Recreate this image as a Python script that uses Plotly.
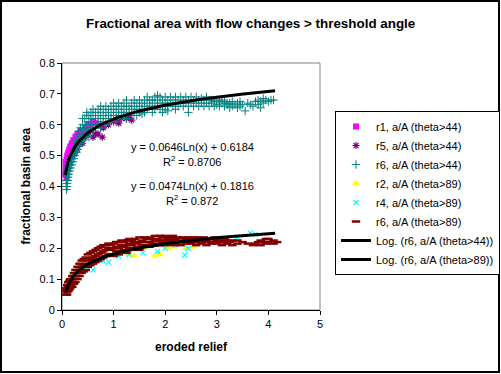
import math
import plotly.graph_objects as go

# ---------------- data ----------------
# r6, a/A (theta>44)  -- teal crosses
r6_44_x = [0.08, 0.08, 0.09, 0.09, 0.09, 0.10, 0.10, 0.10, 0.10, 0.11, 0.11, 0.12, 0.12, 0.12,
           0.13, 0.13, 0.13, 0.15, 0.15, 0.15, 0.17, 0.17, 0.17, 0.19, 0.19, 0.21, 0.21, 0.21,
           0.23, 0.23, 0.25, 0.25, 0.25, 0.28, 0.28, 0.28, 0.30, 0.30, 0.30, 0.33, 0.33, 0.33,
           0.36, 0.36, 0.36, 0.40, 0.40, 0.40, 0.40, 0.44, 0.44, 0.44, 0.48, 0.48, 0.48, 0.48,
           0.52, 0.52, 0.52, 0.52, 0.56, 0.56, 0.56, 0.60, 0.60, 0.60, 0.60, 0.65, 0.65, 0.65,
           0.70, 0.70, 0.70, 0.70, 0.75, 0.75, 0.75, 0.75, 0.80, 0.80, 0.80, 0.85, 0.85, 0.85,
           0.85, 0.90, 0.90, 0.90, 0.95, 0.95, 0.95, 1.00, 1.00, 1.00, 1.00, 1.05, 1.05, 1.05,
           1.10, 1.10, 1.10, 1.15, 1.15, 1.15, 1.20, 1.20, 1.20, 1.25, 1.25, 1.25, 1.25, 1.30,
           1.30, 1.35, 1.35, 1.35, 1.40, 1.40, 1.40, 1.45, 1.45, 1.45, 1.50, 1.50, 1.50, 1.55,
           1.55, 1.60, 1.60, 1.60, 1.65, 1.65, 1.65, 1.70, 1.70, 1.75, 1.75, 1.75, 1.80, 1.80,
           1.80, 1.85, 1.85, 1.85, 1.90, 1.90, 1.90, 1.95, 1.95, 2.00, 2.00, 2.00, 2.05, 2.05,
           2.10, 2.10, 2.15, 2.15, 2.20, 2.20, 2.25, 2.25, 2.30, 2.30, 2.35, 2.35, 2.40, 2.40,
           2.45, 2.45, 2.50, 2.50, 2.55, 2.55, 2.60, 2.60, 2.65, 2.65, 2.70, 2.70, 2.75, 2.75,
           2.80, 2.80, 2.85, 2.85, 2.90, 2.90, 2.95, 2.95, 3.00, 3.00, 3.05, 3.05, 3.10, 3.10,
           3.15, 3.15, 3.20, 3.20, 3.25, 3.25, 3.30, 3.30, 3.35, 3.40, 3.40, 3.45, 3.45, 3.50,
           3.55, 3.60, 3.65, 3.70, 3.75, 3.80, 3.80, 3.85, 3.85, 3.90, 3.90, 3.95, 4.00, 4.05,
           4.10, 1.55, 1.95, 2.05, 2.20, 2.45]
r6_44_y = [0.40, 0.42, 0.39, 0.42, 0.44, 0.40, 0.41, 0.43, 0.45, 0.42, 0.44, 0.43, 0.45, 0.47,
           0.44, 0.46, 0.48, 0.45, 0.47, 0.49, 0.46, 0.48, 0.50, 0.47, 0.50, 0.48, 0.50, 0.52,
           0.49, 0.52, 0.50, 0.52, 0.54, 0.51, 0.53, 0.55, 0.52, 0.54, 0.57, 0.53, 0.55, 0.58,
           0.54, 0.56, 0.59, 0.55, 0.57, 0.60, 0.62, 0.56, 0.59, 0.62, 0.57, 0.60, 0.63, 0.64,
           0.56, 0.58, 0.61, 0.63, 0.59, 0.62, 0.64, 0.58, 0.60, 0.63, 0.65, 0.59, 0.62, 0.64,
           0.60, 0.61, 0.63, 0.65, 0.59, 0.62, 0.64, 0.66, 0.61, 0.63, 0.65, 0.60, 0.62, 0.64,
           0.66, 0.61, 0.63, 0.65, 0.62, 0.64, 0.66, 0.61, 0.63, 0.65, 0.67, 0.62, 0.64, 0.66,
           0.63, 0.65, 0.67, 0.62, 0.64, 0.66, 0.63, 0.65, 0.67, 0.62, 0.64, 0.66, 0.68, 0.64,
           0.66, 0.63, 0.65, 0.67, 0.64, 0.66, 0.68, 0.63, 0.65, 0.67, 0.64, 0.66, 0.68, 0.65,
           0.67, 0.64, 0.66, 0.68, 0.65, 0.67, 0.69, 0.66, 0.68, 0.64, 0.66, 0.68, 0.65, 0.67,
           0.69, 0.66, 0.68, 0.695, 0.65, 0.67, 0.69, 0.66, 0.68, 0.65, 0.67, 0.69, 0.66, 0.68,
           0.67, 0.69, 0.66, 0.68, 0.67, 0.69, 0.66, 0.68, 0.67, 0.69, 0.66, 0.68, 0.67, 0.69,
           0.66, 0.68, 0.67, 0.69, 0.66, 0.68, 0.67, 0.69, 0.66, 0.68, 0.67, 0.685, 0.66, 0.68,
           0.67, 0.69, 0.66, 0.68, 0.67, 0.68, 0.66, 0.675, 0.665, 0.68, 0.66, 0.675, 0.67, 0.68,
           0.66, 0.675, 0.665, 0.67, 0.655, 0.67, 0.66, 0.675, 0.665, 0.655, 0.67, 0.66, 0.675, 0.665,
           0.645, 0.67, 0.665, 0.66, 0.675, 0.665, 0.68, 0.655, 0.675, 0.67, 0.685, 0.68, 0.675, 0.68,
           0.68, 0.635, 0.64, 0.645, 0.65, 0.64]

# r1, a/A (theta>44)  -- magenta squares
r1_44_x = [0.06, 0.07, 0.07, 0.08, 0.08, 0.09, 0.09, 0.10, 0.10, 0.11, 0.12, 0.12, 0.13, 0.14,
           0.15, 0.16, 0.18, 0.19, 0.21, 0.22, 0.24, 0.26, 0.28, 0.30, 0.33, 0.36, 0.40, 0.45,
           0.50, 0.55, 0.60, 0.64]
r1_44_y = [0.44, 0.46, 0.48, 0.45, 0.47, 0.49, 0.43, 0.50, 0.46, 0.48, 0.50, 0.51, 0.49, 0.52,
           0.51, 0.53, 0.52, 0.54, 0.53, 0.55, 0.54, 0.56, 0.55, 0.57, 0.56, 0.58, 0.57, 0.59,
           0.60, 0.60, 0.61, 0.605]

# r5, a/A (theta>44)  -- purple asterisks
r5_44_x = [0.12, 0.15, 0.20, 0.25, 0.30, 0.35, 0.40, 0.45, 0.50, 0.55, 0.60, 0.65, 0.70, 0.75,
           0.78, 0.80, 0.90, 1.00, 1.05, 1.10, 1.15, 1.25, 1.30, 1.35]
r5_44_y = [0.46, 0.48, 0.50, 0.51, 0.52, 0.54, 0.54, 0.56, 0.57, 0.58, 0.56, 0.57, 0.57, 0.60,
           0.56, 0.59, 0.60, 0.61, 0.615, 0.605, 0.62, 0.62, 0.625, 0.615]

# r2, a/A (theta>89)  -- yellow triangles
r2_89_x = [0.10, 0.15, 0.20, 0.25, 0.30, 0.35, 0.40, 0.45, 0.50, 0.55, 0.70, 0.90, 1.00, 1.10,
           1.30, 1.40, 1.60, 1.80, 1.90, 2.05, 2.15, 2.40, 2.55]
r2_89_y = [0.08, 0.10, 0.11, 0.12, 0.13, 0.14, 0.16, 0.17, 0.165, 0.175, 0.17, 0.18, 0.185, 0.19,
           0.18, 0.175, 0.20, 0.175, 0.18, 0.20, 0.205, 0.20, 0.205]

# r4, a/A (theta>89)  -- cyan crosses
r4_89_x = [0.08, 0.10, 0.15, 0.30, 0.40, 0.50, 0.60, 0.73, 0.80, 0.90, 1.10, 1.30, 1.57, 1.85,
           2.00, 2.20, 2.38, 2.45, 2.90, 3.10, 3.40, 3.65, 3.75]
r4_89_y = [0.08, 0.07, 0.09, 0.11, 0.13, 0.13, 0.13, 0.16, 0.16, 0.155, 0.175, 0.18, 0.185, 0.19,
           0.20, 0.21, 0.178, 0.20, 0.22, 0.22, 0.236, 0.249, 0.245]

# r6, a/A (theta>89)  -- maroon dashes
r6_89_x = [0.08, 0.08, 0.08, 0.10, 0.10, 0.10, 0.12, 0.12, 0.12, 0.14, 0.14, 0.14, 0.16, 0.16,
           0.16, 0.18, 0.18, 0.20, 0.20, 0.20, 0.23, 0.23, 0.23, 0.26, 0.26, 0.26, 0.30, 0.30,
           0.30, 0.34, 0.34, 0.34, 0.38, 0.38, 0.38, 0.42, 0.42, 0.42, 0.46, 0.46, 0.46, 0.50,
           0.50, 0.50, 0.55, 0.55, 0.55, 0.60, 0.60, 0.60, 0.65, 0.65, 0.65, 0.70, 0.70, 0.70,
           0.75, 0.75, 0.75, 0.80, 0.80, 0.80, 0.85, 0.85, 0.85, 0.90, 0.90, 0.90, 0.95, 0.95,
           0.95, 1.00, 1.00, 1.00, 1.05, 1.05, 1.05, 1.10, 1.10, 1.10, 1.15, 1.15, 1.15, 1.20,
           1.20, 1.20, 1.25, 1.25, 1.25, 1.30, 1.30, 1.30, 1.35, 1.35, 1.35, 1.40, 1.40, 1.40,
           1.45, 1.45, 1.50, 1.50, 1.50, 1.55, 1.55, 1.60, 1.60, 1.60, 1.65, 1.65, 1.70, 1.70,
           1.70, 1.75, 1.75, 1.80, 1.80, 1.80, 1.85, 1.85, 1.90, 1.90, 1.90, 1.95, 1.95, 2.00,
           2.00, 2.00, 2.05, 2.05, 2.10, 2.10, 2.15, 2.15, 2.15, 2.20, 2.20, 2.25, 2.25, 2.30,
           2.30, 2.35, 2.35, 2.40, 2.40, 2.45, 2.45, 2.50, 2.50, 2.55, 2.55, 2.60, 2.60, 2.65,
           2.65, 2.70, 2.70, 2.75, 2.75, 2.80, 2.80, 2.85, 2.85, 2.90, 2.90, 2.95, 2.95, 3.00,
           3.00, 3.05, 3.05, 3.10, 3.10, 3.15, 3.15, 3.20, 3.20, 3.25, 3.30, 3.30, 3.40, 3.40,
           3.50, 3.60, 3.70, 3.75, 3.80, 3.85, 3.85, 3.90, 3.95, 3.95, 4.00, 4.00, 4.10, 4.10,
           4.17]
r6_89_y = [0.05, 0.06, 0.07, 0.05, 0.065, 0.08, 0.06, 0.075, 0.09, 0.065, 0.08, 0.095, 0.07, 0.09,
           0.10, 0.08, 0.10, 0.075, 0.09, 0.11, 0.085, 0.10, 0.12, 0.09, 0.11, 0.13, 0.10, 0.12,
           0.14, 0.11, 0.13, 0.15, 0.12, 0.14, 0.16, 0.125, 0.145, 0.165, 0.13, 0.15, 0.17, 0.14,
           0.16, 0.18, 0.145, 0.165, 0.185, 0.15, 0.17, 0.19, 0.155, 0.175, 0.195, 0.16, 0.18, 0.20,
           0.165, 0.185, 0.205, 0.17, 0.19, 0.21, 0.175, 0.195, 0.21, 0.18, 0.20, 0.215, 0.18, 0.195,
           0.21, 0.175, 0.20, 0.215, 0.19, 0.205, 0.22, 0.18, 0.20, 0.22, 0.19, 0.21, 0.225, 0.195,
           0.205, 0.22, 0.185, 0.21, 0.225, 0.20, 0.215, 0.23, 0.195, 0.21, 0.225, 0.20, 0.22, 0.23,
           0.205, 0.215, 0.195, 0.22, 0.235, 0.21, 0.225, 0.205, 0.22, 0.235, 0.21, 0.23, 0.205, 0.22,
           0.235, 0.215, 0.23, 0.21, 0.225, 0.24, 0.215, 0.23, 0.21, 0.225, 0.24, 0.22, 0.235, 0.21,
           0.225, 0.24, 0.215, 0.23, 0.22, 0.235, 0.21, 0.225, 0.24, 0.215, 0.23, 0.22, 0.235, 0.21,
           0.225, 0.22, 0.235, 0.215, 0.23, 0.22, 0.235, 0.215, 0.23, 0.22, 0.235, 0.21, 0.225, 0.22,
           0.235, 0.215, 0.23, 0.22, 0.235, 0.21, 0.225, 0.22, 0.23, 0.215, 0.23, 0.22, 0.235, 0.215,
           0.225, 0.22, 0.23, 0.21, 0.225, 0.22, 0.23, 0.215, 0.225, 0.22, 0.21, 0.225, 0.215, 0.225,
           0.22, 0.215, 0.21, 0.215, 0.22, 0.225, 0.21, 0.22, 0.23, 0.215, 0.22, 0.23, 0.225, 0.215,
           0.22]

# logarithmic trendlines (coefficients as printed on the chart)
trend_44 = {"a": 0.0646, "b": 0.6184, "xmin": 0.06, "xmax": 4.13}
trend_89 = {"a": 0.0474, "b": 0.1816, "xmin": 0.07, "xmax": 4.13}
eq_44 = ["y = 0.0646Ln(x) + 0.6184", "R<sup>2</sup> = 0.8706"]
eq_89 = ["y = 0.0474Ln(x) + 0.1816", "R<sup>2</sup> = 0.872"]

x_ticks = [0, 1, 2, 3, 4, 5]
y_ticks = [0, 0.1, 0.2, 0.3, 0.4, 0.5, 0.6, 0.7, 0.8]
y_tick_labels = ["0", "0.1", "0.2", "0.3", "0.4", "0.5", "0.6", "0.7", "0.8"]

# ---------------- figure ----------------
FONT = "Liberation Sans, Arial, sans-serif"


def trend_xy(t, n=80):
    xs = [t["xmin"] + (t["xmax"] - t["xmin"]) * i / (n - 1) for i in range(n)]
    ys = [t["a"] * math.log(v) + t["b"] for v in xs]
    return xs, ys


fig = go.Figure()

fig.add_trace(go.Scatter(x=r1_44_x, y=r1_44_y, mode="markers", name="r1, a/A (theta>44)",
                         marker=dict(symbol="square", size=6, color="#FF00FF")))
fig.add_trace(go.Scatter(x=r5_44_x, y=r5_44_y, mode="markers", name="r5, a/A (theta>44)",
                         marker=dict(symbol="asterisk", size=6, color="#800080",
                                     line=dict(color="#800080", width=1.2))))
fig.add_trace(go.Scatter(x=r6_44_x, y=r6_44_y, mode="markers", name="r6, a/A (theta>44)",
                         marker=dict(symbol="cross-thin", size=6, color="#008080",
                                     line=dict(color="#008080", width=1))))
fig.add_trace(go.Scatter(x=r2_89_x, y=r2_89_y, mode="markers", name="r2, a/A (theta>89)",
                         marker=dict(symbol="triangle-up", size=7, color="#FFFF00")))
fig.add_trace(go.Scatter(x=r4_89_x, y=r4_89_y, mode="markers", name="r4, a/A (theta>89)",
                         marker=dict(symbol="x-thin", size=5, color="#00FFFF",
                                     line=dict(color="#00FFFF", width=1.2))))
fig.add_trace(go.Scatter(x=r6_89_x, y=r6_89_y, mode="markers", name="r6, a/A (theta>89)",
                         marker=dict(symbol="line-ew", size=6, color="#800000",
                                     line=dict(color="#800000", width=2.5))))

tx, ty = trend_xy(trend_44)
fig.add_trace(go.Scatter(x=tx, y=ty, mode="lines", name="Log. (r6, a/A (theta>44))",
                         line=dict(color="black", width=3)))
tx, ty = trend_xy(trend_89)
fig.add_trace(go.Scatter(x=tx, y=ty, mode="lines", name="Log. (r6, a/A (theta>89))",
                         line=dict(color="black", width=3)))

L, R, T, B = 62, 181, 63, 64
W, H = 501, 374
pw, ph = W - L - R, H - T - B


def px_x(p):
    return (p - L) / pw


def px_y(p):
    return (H - B - p) / ph


annotations = []
eq_x = 2.52
for txt, yv in zip(eq_44 + eq_89, [0.528, 0.483, 0.402, 0.356]):
    annotations.append(dict(x=eq_x, y=yv, xref="x", yref="y", text=txt, showarrow=False,
                            font=dict(family=FONT, size=11, color="black"),
                            xanchor="center", yanchor="middle"))
annotations.append(dict(x=0.5, y=px_y(347), xref="paper", yref="paper", text="<b>eroded relief</b>",
                        showarrow=False, font=dict(family=FONT, size=12, color="black"),
                        xanchor="center", yanchor="middle"))
annotations.append(dict(x=px_x(25), y=0.5, xref="paper", yref="paper",
                        text="<b>fractional basin area</b>", textangle=-90,
                        showarrow=False, font=dict(family=FONT, size=12, color="black"),
                        xanchor="center", yanchor="middle"))
annotations.append(dict(x=px_x(250), y=px_y(24), xref="paper", yref="paper",
                        text="<b>Fractional area with flow changes &gt; threshold angle</b>",
                        showarrow=False, font=dict(family=FONT, size=13.4, color="black"),
                        xanchor="center", yanchor="middle"))

shapes = [
    dict(type="rect", xref="paper", yref="paper", x0=0, x1=1, y0=0, y1=1,
         line=dict(color="#808080", width=1), layer="below"),
    dict(type="rect", xref="paper", yref="paper", x0=px_x(1), x1=px_x(499), y0=px_y(1),
         y1=px_y(372), line=dict(color="black", width=2), layer="below"),
]

fig.update_layout(
    width=W, height=H, autosize=False,
    margin=dict(l=L, r=R, t=T, b=B, pad=0, autoexpand=False),
    paper_bgcolor="white", plot_bgcolor="white",
    font=dict(family=FONT, size=11, color="black"),
    showlegend=True,
    legend=dict(xref="container", yref="container", x=335 / W, y=1 - 111 / H,
                xanchor="left", yanchor="top",
                bordercolor="black", borderwidth=1, bgcolor="white",
                font=dict(family=FONT, size=11, color="black"), traceorder="normal"),
    annotations=annotations,
    shapes=shapes,
    xaxis=dict(range=[0, 5], tickvals=x_ticks, ticktext=[str(v) for v in x_ticks],
               showgrid=False, zeroline=False, showline=True, linecolor="black", linewidth=1,
               ticks="outside", ticklen=4, tickcolor="black", automargin=False,
               tickfont=dict(family=FONT, size=11, color="black")),
    yaxis=dict(range=[0, 0.8], tickvals=y_ticks, ticktext=y_tick_labels,
               showgrid=False, zeroline=False, showline=True, linecolor="black", linewidth=1,
               ticks="outside", ticklen=4, tickcolor="black", automargin=False,
               tickfont=dict(family=FONT, size=11, color="black")),
)

fig.write_html("out.html", config={"displayModeBar": False},
               post_script="document.body.style.margin='0px';")
